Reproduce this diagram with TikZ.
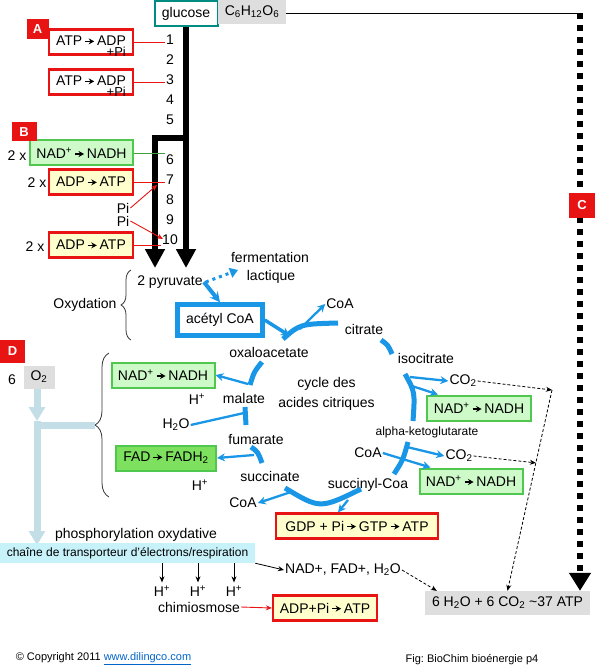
\documentclass[tikz,border=0pt]{standalone}
\usepackage{fontspec}
\setmainfont{Liberation Sans}
\usepackage{tikz}
\usetikzlibrary{positioning, arrows.meta, calc, decorations.pathreplacing}

\definecolor{krebsblue}{RGB}{25,150,230}
\definecolor{boxred}{RGB}{232,20,20}
\definecolor{boxgreen}{RGB}{80,200,80}
\definecolor{lightgreen}{RGB}{205,250,200}
\definecolor{fadgreen}{RGB}{125,225,95}
\definecolor{lightyellow}{RGB}{255,255,205}
\definecolor{glucteal}{RGB}{0,140,130}
\definecolor{boxgray}{RGB}{222,222,222}
\definecolor{oxblue}{RGB}{195,222,230}
\definecolor{chaincyan}{RGB}{200,242,250}
\definecolor{linkblue}{RGB}{0,100,200}

\newcommand{\tor}{\,\tikz[baseline=-0.6ex]\draw[line width=1.1pt,-{Stealth[length=5.5pt,width=6pt]}] (0pt,0pt) -- (9pt,0pt);\,}
\newcommand{\pisub}{\llap{\raisebox{-9pt}[0pt][0pt]{\fontsize{13}{15}\selectfont +Pi}}}

\begin{document}
\begin{tikzpicture}[
    x=1pt, y=-1pt,
    every node/.style={font=\fontsize{14}{16}\selectfont, inner sep=1pt},
    tagbox/.style={fill=boxred, text=white, font=\fontsize{13}{15}\selectfont\bfseries, minimum width=24pt, minimum height=20pt, inner sep=0pt},
    redbox/.style={draw=boxred, line width=2.2pt, fill=white, minimum height=25pt, inner sep=0pt},
    yellowbox/.style={redbox, fill=lightyellow},
    greenbox/.style={draw=boxgreen, line width=2pt, fill=lightgreen, minimum height=25pt, inner sep=0pt},
    graybox/.style={fill=boxgray, inner sep=0pt},
    smalltext/.style={font=\fontsize{12}{14}\selectfont},
    foottext/.style={font=\fontsize{11}{13}\selectfont},
    redline/.style={boxred, line width=0.9pt},
    redarrow/.style={redline, -{Stealth[length=6pt,width=5pt]}},
    greenline/.style={boxgreen!80!black, line width=0.9pt},
    glyline/.style={line width=6.5pt, -{Triangle[width=19pt,length=19pt]}},
    dotline/.style={line width=6pt, dash pattern=on 6pt off 6pt, -{Triangle[width=21pt,length=18pt]}},
    oxline/.style={oxblue, line width=7pt},
    oxarrow/.style={oxline, -{Triangle[width=16pt,length=14pt]}},
    cycline/.style={krebsblue, line width=5pt},
    cycarrow/.style={krebsblue, line width=2.3pt, -{Stealth[length=8pt,width=8pt]}},
    thinarrow/.style={line width=0.8pt, -{Stealth[length=6pt,width=5pt]}},
    dasharrow/.style={thinarrow, dash pattern=on 3pt off 2pt},
    bracebar/.style={decorate, decoration={brace, amplitude=#1}, line width=0.8pt, black!80}
]
\useasboundingbox (0,0) rectangle (595,671);

% glucose and overall balance
\node[draw=glucteal, line width=2pt, minimum width=63pt, minimum height=25pt, inner sep=0pt] (glucose) at (186,14) {glucose};
\node[graybox, minimum width=68pt, minimum height=24pt] (formula) at (252,12) {C\textsubscript{6}H\textsubscript{12}O\textsubscript{6}};
\coordinate (ctop) at (580,13);
\node[graybox, minimum width=165pt, minimum height=24pt] (final) at (507.5,603) {6 H\textsubscript{2}O + 6 CO\textsubscript{2} \textasciitilde37 ATP};
\draw[line width=0.8pt] (formula.east |- ctop) -- (ctop);
\draw[dotline] (ctop) -- (final.north -| ctop);
\node[tagbox, minimum width=26pt, minimum height=25pt] (tagC) at (582,205.5) {C};

% glycolysis
\coordinate (split) at (186,138);
\coordinate (pyrR) at (186,268);
\coordinate (pyrL) at (155,268);
\draw[glyline] (glucose.south) -- (pyrR);
\draw[glyline] (split) -| (pyrL);
\foreach \n/\y in {1/40,2/60,3/80,4/100,5/120,6/160,7/180,8/200,9/220,10/240}
    \node (n\n) at (170,\y) {\n};

\node[redbox, minimum width=84pt] (atpA) at (91,42) {\raisebox{2pt}{ATP\tor ADP}\pisub};
\node[redbox, minimum width=84pt] (atpB) at (91,82) {\raisebox{2pt}{ATP\tor ADP}\pisub};
\node[tagbox, minimum width=22pt] (tagA) at (37.5,29.5) {A};
\draw[redline] (atpA.east) -- (atpA.east -| n1.west);
\draw[redline] (atpB.east) -- (atpB.east -| n3.west);

\node[greenbox, minimum width=103pt] (nadGly) at (81.5,153) {NAD\textsuperscript{+}\tor NADH};
\node[tagbox, minimum width=25pt, minimum height=19pt] (tagB) at (24,132) {B};
\node[yellowbox, minimum width=84pt] (adpA) at (91,182) {ADP\tor ATP};
\node[yellowbox, minimum width=84pt] (adpB) at (91,245) {ADP\tor ATP};
\node (twoA) at (17,156) {2 x};
\node (twoB) at (37,183) {2 x};
\node (twoC) at (35,247) {2 x};
\draw[greenline] (nadGly.east) -- (nadGly.east -| n6.west);
\draw[redline] (adpA.east) -- (adpA.east -| n7.west);
\draw[redline] (adpB.east) -- (adpB.east -| n10.west);
\node (piA) at (123,208) {Pi};
\node (piB) at (123,221) {Pi};
\coordinate (hitA) at (157,185);
\coordinate (hitB) at (163,239);
\draw[redarrow] (piA.east) -- (hitA);
\draw[redarrow] (piB.east) -- (hitB);

% pyruvate and oxydation
\node (pyr) at (170,282) {2 pyruvate};
\node (ferm) at (270,257) {fermentation};
\node (lact) at (271,277) {lactique};
\coordinate (lactTip) at (238,270);
\draw[krebsblue, line width=3pt, dash pattern=on 3pt off 4pt, -{Triangle[width=10pt,length=8pt]}] ($(pyr.east)+(2,0)$) -- (lactTip);
\node (oxyd) at (85,305) {Oxydation};
\draw[bracebar=10pt] (131,340) -- (131,270);
\node[draw=krebsblue, line width=4.5pt, fill=white, minimum width=85pt, minimum height=31pt, inner sep=0pt] (acetyl) at (220,320) {acétyl CoA};
\draw[krebsblue, line width=4pt, -{Stealth[length=10pt,width=10pt]}] (pyr.east) -- (acetyl.north);
\coordinate (cycIn) at (290,336);
\draw[krebsblue, line width=3.5pt, -{Stealth[length=9pt,width=9pt]}] (acetyl.east) -- (cycIn);

% citric acid cycle
\node (coaT) at (340,304) {CoA};
\node (citrate) at (364,329) {citrate};
\node (oxalo) at (269,352) {oxaloacetate};
\node (isocit) at (426,358) {isocitrate};
\node (co2a) at (463,381) {CO\textsubscript{2}};
\node[greenbox, minimum width=104pt] (nadIso) at (479,408) {NAD\textsuperscript{+}\tor NADH};
\node[smalltext] (alpha) at (427,432) {alpha-ketoglutarate};
\node (coaR) at (368,453) {CoA};
\node (co2b) at (459,456) {CO\textsubscript{2}};
\node[greenbox, minimum width=103pt] (nadKg) at (471,481) {NAD\textsuperscript{+}\tor NADH};
\node (succoa) at (368,485) {succinyl-Coa};
\node[yellowbox, minimum width=162pt] (gdp) at (357,526) {GDP + Pi\tor GTP\tor ATP};
\node (succ) at (270,476) {succinate};
\node (coaL) at (243,503) {CoA};
\node (fum) at (256,439) {fumarate};
\node (hpB) at (200,485) {H\textsuperscript{+}};
\node[greenbox, fill=fadgreen, minimum width=100pt] (fad) at (166,458) {FAD\tor FADH\textsubscript{2}};
\node (h2o) at (176,425) {H\textsubscript{2}O};
\node (malate) at (244,398) {malate};
\node (hpA) at (197,399) {H\textsuperscript{+}};
\node[greenbox, minimum width=103pt] (nadMal) at (163,375) {NAD\textsuperscript{+}\tor NADH};
\node[font=\fontsize{14}{20}\selectfont, align=center] (cycname) at (326.5,394) {cycle des\\acides citriques};

\draw[cycline] (283,339) .. controls (300,324) .. (338,323);
\draw[cycline] (381,340) .. controls (388,345) .. (392,354);
\draw[cycline] (405,374) .. controls (415,392) .. (413,421);
\draw[cycline] (408,442) .. controls (403,460) .. (394,474);
\draw[cycline] (285,488) .. controls (320,509) .. (361,489);
\draw[cycline] (251,447) .. controls (258,452) .. (262,463);
\draw[cycline] (245,407) -- (246,425);
\draw[cycline] (262,362) .. controls (254,372) .. (250,385);

\draw[cycarrow] (300,329) -- (coaT.west);
\draw[cycarrow] (410,377) -- (co2a.west);
\draw[cycarrow] (412,386) -- ($(nadIso.north west)+(12,0)$);
\draw[cycarrow] (coaR.east) -- ($(nadKg.north west)+(12,0)$);
\draw[cycarrow] (407,447) -- (co2b.west);
\draw[cycarrow] (248,384) -- (nadMal.east);
\draw[krebsblue, line width=2.3pt] (h2o.east) -- (244,413);
\draw[cycarrow] (254,455) -- (fad.east);
\draw[cycarrow] (291,492) -- (coaL.east);
\draw[cycarrow] (348,500) -- ($(gdp.north)+(-19,0)$);

% carbon dioxide to the balance
\coordinate (kj) at (552,390);
\draw[dasharrow] (co2a.east) -- (kj);
\draw[dasharrow] (kj) -- (final.north);
\draw[dasharrow] (co2b.east) -- ($(kj)!0.363!(final.north)$);

% oxygen and respiratory chain
\node[tagbox, minimum width=25pt, minimum height=23pt] (tagD) at (12.5,351.5) {D};
\node (six) at (12,380) {6};
\node[graybox, minimum width=31pt, minimum height=23pt] (o2) at (39,377) {O\textsubscript{2}};
\coordinate (oxmid) at (37,421);
\coordinate (oxend) at (37,545);
\coordinate (bracetip) at (95,425);
\draw[bracebar=14pt] (109,497) -- (109,353);
\draw[oxline] (37,425) -- (bracetip);
\draw[oxarrow] (o2.south -| oxmid) -- (oxmid);
\draw[oxarrow] (oxmid) -- (oxend);

\node (phos) at (136,535) {phosphorylation oxydative};
\node[fill=chaincyan, minimum width=255pt, minimum height=20pt, inner sep=0pt, smalltext] (chain) at (127.5,553) {chaîne de transporteur d'électrons/respiration};
\foreach \x [count=\i] in {162,198,234} {
    \node (hp\i) at (\x,591) {H\textsuperscript{+}};
    \draw[thinarrow, shorten >=2pt] (chain.south -| hp\i) -- (hp\i.north);
}
\node (chim) at (199,607) {chimiosmose};
\node[yellowbox, minimum width=104pt] (adppi) at (325,608) {ADP+Pi\tor ATP};
\draw[redarrow] (chim.east) -- (adppi.west);
\node (nadtxt) at (343,570) {NAD+, FAD+, H\textsubscript{2}O};
\draw[thinarrow] (chain.south east) -- (nadtxt.west);
\draw[dasharrow] (nadtxt.east) -- ($(final.north west)+(12,0)$);

% footer
\node[foottext] (copy) at (103.5,659) {\textcopyright{} Copyright 2011 \textcolor{linkblue}{\underline{www.dilingco.com}}};
\node[foottext] (fig) at (472,660) {Fig:\ BioChim bioénergie p4};

\end{tikzpicture}
\end{document}
